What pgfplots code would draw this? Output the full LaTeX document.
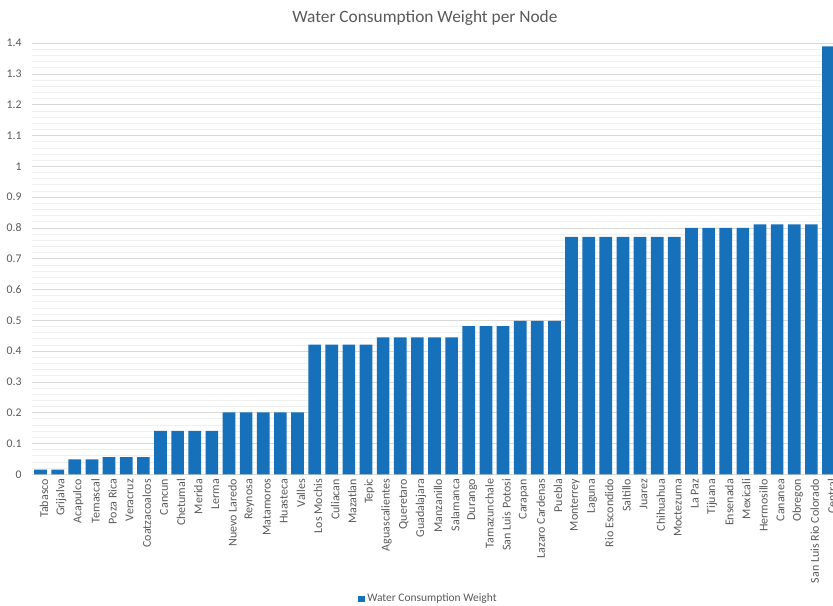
\documentclass[border=0pt]{standalone}
\usepackage{pgfplots}
\pgfplotsset{compat=1.18}
\usepackage{fontspec}
\setmainfont{Carlito}

\definecolor{barblue}{RGB}{22,113,186}
\definecolor{txtgray}{HTML}{595959}
\definecolor{majgrid}{HTML}{D9D9D9}
\definecolor{mingrid}{HTML}{EFEFEF}

\begin{document}
\begin{tikzpicture}
% fixed canvas, 1px = 0.75pt
\useasboundingbox (0,0) rectangle (624.75pt,454.5pt);
\begin{axis}[
  at={(24pt,98.8pt)}, anchor=south west,
  scale only axis,
  width=603.8pt, height=323.25pt,
  ybar, bar width=0.74,
  xmin=-0.5, xmax=46.5,
  ymin=0, ymax=1.4,
  ytick distance=0.1,
  minor y tick num=4,
  ymajorgrids, yminorgrids,
  major grid style={majgrid, line width=0.6pt},
  minor grid style={mingrid, line width=0.6pt},
  major tick length=0pt, minor tick length=0pt,
  axis x line*=bottom, axis y line*=left,
  y axis line style={draw=none},
  x axis line style={majgrid, line width=0.8pt},
  /pgf/number format/assume math mode=true,
  /pgf/number format/fixed,
  /pgf/number format/precision=1,
  yticklabel style={font=\fontsize{8.8}{10}\selectfont, text=txtgray, xshift=-4.3pt},
  xtick=data,
  xticklabels={Tabasco,Grijalva,Acapulco,Temascal,Poza Rica,Veracruz,Coatzacoalcos,Cancun,Chetumal,Merida,Lerma,Nuevo Laredo,Reynosa,Matamoros,Huasteca,Valles,Los Mochis,Culiacan,Mazatlan,Tepic,Aguascalientes,Queretaro,Guadalajara,Manzanillo,Salamanca,Durango,Tamazunchale,San Luis Potosi,Carapan,Lazaro Cardenas,Puebla,Monterrey,Laguna,Rio Escondido,Saltillo,Juarez,Chihuahua,Moctezuma,La Paz,Tijuana,Ensenada,Mexicali,Hermosillo,Cananea,Obregon,San Luis Rio Colorado,Central},
  xticklabel style={rotate=90, anchor=east, font=\fontsize{9}{10}\selectfont, text=txtgray, yshift=-2.6pt},
  title={Water Consumption Weight per Node},
  title style={at={(0.488,1.040)}, anchor=center, font=\fontsize{13}{15}\selectfont, text=txtgray},
  legend style={draw=none, fill=none, at={(0.493,-0.289)}, anchor=center,
    font=\fontsize{8.6}{10}\selectfont, text=txtgray, inner sep=0pt},
  legend image code/.code={\fill[barblue] (0pt,-2.3pt) rectangle (4.6pt,2.3pt);},
]
\addplot[fill=barblue, draw=none] coordinates {
  (0,0.015) (1,0.015)
  (2,0.048) (3,0.048)
  (4,0.056) (5,0.056) (6,0.056)
  (7,0.141) (8,0.141) (9,0.141) (10,0.141)
  (11,0.201) (12,0.201) (13,0.201) (14,0.201) (15,0.201)
  (16,0.421) (17,0.421) (18,0.421) (19,0.421)
  (20,0.445) (21,0.445) (22,0.445) (23,0.445) (24,0.445)
  (25,0.481) (26,0.481) (27,0.481)
  (28,0.498) (29,0.498) (30,0.498)
  (31,0.771) (32,0.771) (33,0.771) (34,0.771) (35,0.771) (36,0.771) (37,0.771)
  (38,0.800) (39,0.800) (40,0.800) (41,0.800)
  (42,0.812) (43,0.812) (44,0.812) (45,0.812)
  (46,1.390)
};
\addlegendentry{Water Consumption Weight}
\end{axis}
\end{tikzpicture}
\end{document}
